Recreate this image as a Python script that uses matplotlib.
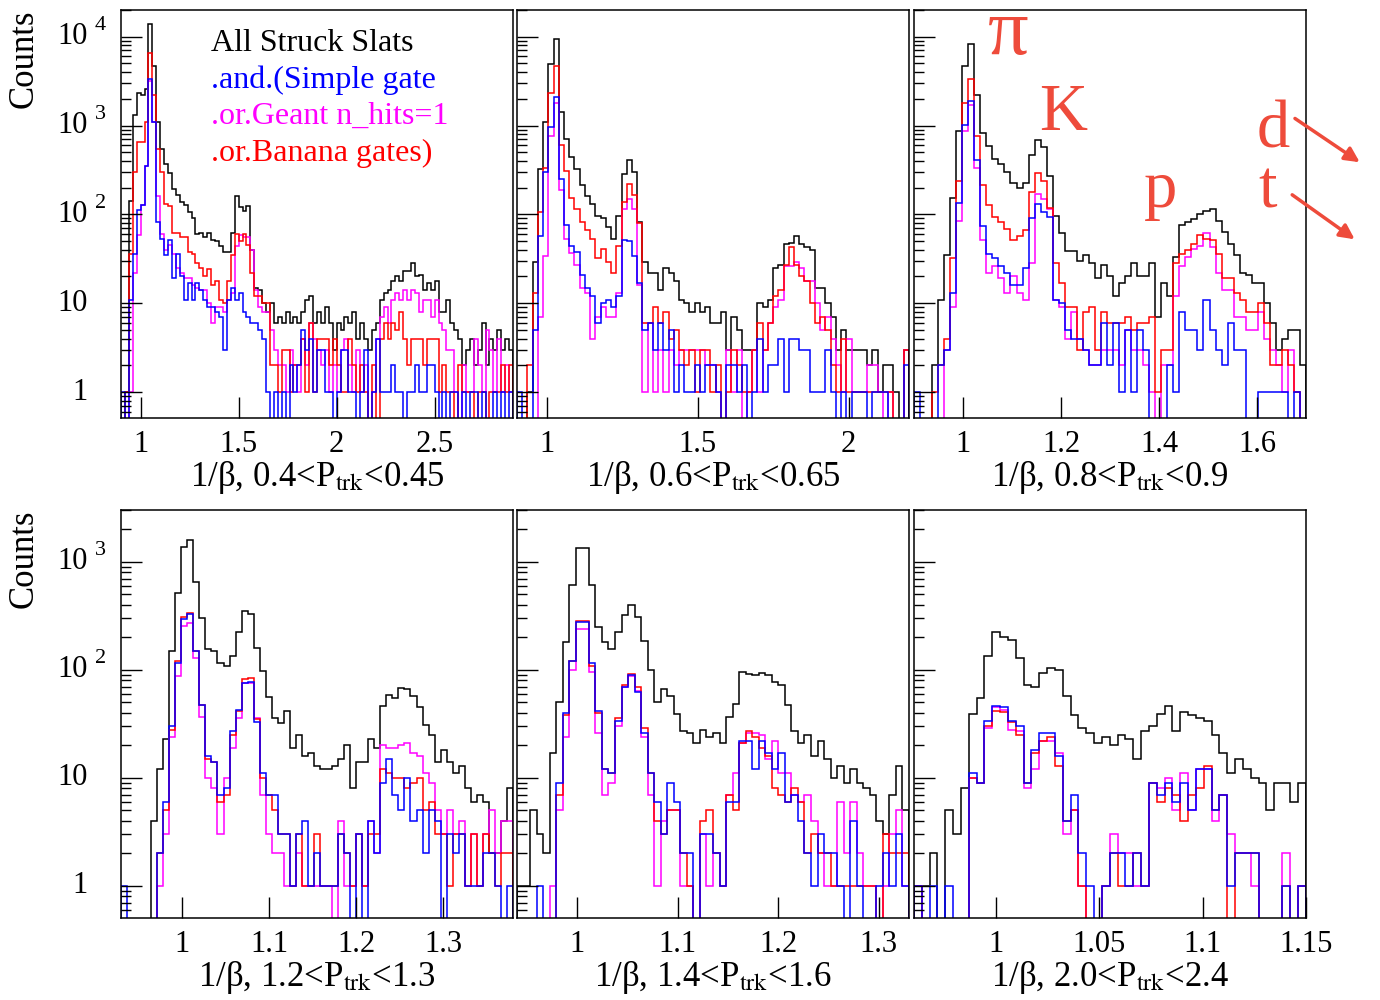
import numpy as np
import matplotlib.pyplot as plt
from matplotlib.transforms import offset_copy
from matplotlib.ticker import NullFormatter, LogLocator

plt.rcParams['font.family'] = ['Liberation Serif', 'DejaVu Serif']
plt.rcParams['mathtext.fontset'] = 'stix'

# ---- panel 1 : 0.4 < P < 0.45, 100 bins on [0.9, 2.9]
p1_black = [0, 1, 140, 1300, 2300, 2200, 2600, 14000, 4700, 1100,
            550, 370, 290, 195, 165, 137, 126, 105, 90, 60,
            62, 55, 62, 52, 50, 44, 38, 38, 62, 160,
            120, 110, 125, 40, 15, 14, 10, 8, 10, 6,
            7, 6, 8, 6, 7, 6, 8, 11, 12, 6,
            8, 6, 9, 6, 3, 6, 5, 7, 6, 8,
            4, 6, 4, 3, 5, 6, 11, 13, 14, 18,
            20, 18, 23, 23, 28, 20, 21, 14, 17, 14,
            18, 8, 8, 11, 6, 5, 4, 2, 3, 4,
            2, 3, 6, 2, 4, 3, 5, 3, 4, 3]
p1_red = [0, 1, 36, 300, 660, 660, 1100, 6600, 2200, 550,
          300, 130, 125, 62, 62, 55, 55, 38, 36, 28,
          25, 20, 24, 16, 18, 11, 10, 18, 35, 60,
          50, 60, 45, 22, 12, 12, 10, 10, 2, 2,
          1, 3, 3, 1, 2, 2, 4, 1, 6, 1,
          4, 4, 4, 2, 4, 2, 1, 1, 4, 2,
          1, 2, 1, 0, 2, 0, 4, 6, 4, 6,
          5, 8, 4, 2, 4, 4, 4, 2, 4, 4,
          4, 1, 2, 1, 1, 0, 2, 1, 1, 1,
          0, 1, 1, 0, 1, 1, 1, 2, 1, 2]
p1_blue = [1, 0, 11, 36, 111, 126, 355, 3350, 1100, 82,
           53, 35, 51, 19, 36, 20, 11, 17, 11, 17,
           14, 11, 9, 9, 8, 7, 3, 11, 15, 11,
           13, 8, 7, 6, 6, 5, 4, 1, 0, 1,
           0, 1, 0, 2, 1, 2, 5, 3, 4, 1,
           3, 3, 1, 1, 0, 1, 3, 3, 1, 1,
           0, 1, 3, 0, 1, 4, 1, 1, 1, 2,
           1, 1, 0, 1, 1, 2, 1, 1, 2, 2,
           1, 0, 1, 0, 1, 1, 0, 1, 0, 1,
           1, 0, 1, 0, 0, 1, 0, 1, 0, 1]
p1_mag = [0, 0, 1, 22, 58, 126, 355, 3200, 1100, 160,
          60, 40, 45, 36, 25, 22, 19, 19, 16, 15,
          14, 14, 10, 6, 9, 9, 8, 11, 13, 44,
          58, 55, 55, 40, 14, 9, 8, 8, 5, 3,
          2, 2, 1, 3, 2, 1, 4, 2, 6, 4,
          3, 2, 3, 1, 2, 1, 3, 4, 2, 1,
          3, 1, 2, 0, 1, 4, 7, 9, 6, 11,
          13, 11, 14, 11, 14, 13, 8, 11, 11, 7,
          11, 6, 5, 3, 3, 1, 0, 2, 1, 1,
          4, 2, 1, 5, 3, 1, 4, 1, 2, 1]

# ---- panel 2 : 0.6 < P < 0.65, 75 bins on [0.9, 2.2]
p2_black = [0, 0, 1, 29, 325, 1100, 4900, 9400, 1420, 710,
            440, 325, 212, 163, 132, 97, 90, 72, 53, 97,
            287, 405, 300, 82, 29, 22, 22, 14, 25, 22,
            18, 11, 10, 8, 10, 8, 9, 6,
            6, 8, 3, 7, 5, 3, 3, 3, 10, 9,
            11, 25, 27, 47, 48, 57, 46, 43, 40, 15,
            15, 10, 7, 3, 5, 3, 3, 3, 3, 2,
            3, 1, 2, 2, 1, 0, 3]
p2_red = [0, 0, 2, 13, 106, 335, 2350, 4700, 600, 310,
          152, 116, 82, 66, 53, 32, 41, 29, 22, 44,
          137, 220, 165, 80, 6, 6, 9, 6, 8, 4,
          5, 3, 2, 3, 1, 3, 3, 1,
          2, 0, 1, 3, 2, 1, 1, 3, 6, 3,
          6, 12, 14, 27, 43, 27, 20, 18, 10, 6,
          7, 5, 2, 1, 4, 1, 1, 1, 1, 1,
          1, 1, 1, 1, 0, 0, 3]
p2_blue = [1, 0, 0, 5, 57, 300, 960, 2100, 250, 75,
           44, 38, 21, 15, 12, 6, 10, 11, 9, 12,
           51, 50, 34, 17, 5, 6, 3, 6, 3, 5,
           1, 2, 1, 1, 2, 1, 2, 2,
           1, 0, 2, 2, 1, 2, 0, 1, 4, 1,
           2, 2, 4, 1, 4, 4, 3, 3, 1, 1,
           1, 3, 1, 0, 1, 0, 1, 1, 1, 0,
           1, 1, 1, 0, 0, 0, 2]
p2_mag = [0, 0, 0, 0, 7, 34, 770, 1800, 186, 53,
          37, 27, 15, 13, 4, 7, 9, 7, 7, 13,
          116, 150, 116, 16, 1, 6, 1, 3, 1, 3,
          2, 3, 3, 3, 3, 3, 2, 2,
          1, 0, 3, 1, 3, 0, 1, 3, 1, 3,
          6, 9, 11, 26, 26, 29, 25, 18, 18, 10,
          5, 7, 4, 2, 1, 4, 1, 1, 1, 2,
          2, 1, 0, 1, 0, 0, 3]

# ---- panel 3 : 0.8 < P < 0.9, 65 bins on [0.9, 1.7]
p3_black = [0, 0, 0, 2, 11, 35, 152, 870, 4640, 8200,
            2210, 830, 596, 415, 370, 299, 227, 200, 227, 468,
            680, 575, 270, 97, 61, 39, 39, 30, 35, 28,
            19, 27, 20,
            12, 17, 20, 28, 20, 20, 28, 7, 17, 12,
            33, 75, 82, 89, 102, 108, 116, 85, 63, 47,
            35, 22, 21, 17, 17, 10, 6, 3, 4, 5,
            5, 2]
p3_red = [0, 0, 0, 1, 2, 4, 32, 240, 1800, 3350,
          760, 212, 126, 93, 82, 69, 51, 57, 66, 178,
          290, 240, 118, 28, 17, 9, 9, 3, 8, 9,
          3, 8, 6,
          6, 6, 7, 5, 6, 6, 7, 1, 3, 3,
          28, 36, 40, 46, 59, 53, 52, 36, 19, 19,
          13, 11, 8, 8, 10, 6, 2, 2, 3, 2,
          1, 0]
p3_blue = [1, 0, 0, 0, 2, 3, 13, 134, 1010, 1870,
           405, 74, 36, 32, 26, 22, 16, 16, 25, 92,
           130, 105, 93, 11, 10, 5, 4, 4, 3, 2,
           2, 6, 2,
           6, 1, 5, 1, 5, 3, 0, 0, 0, 2,
           1, 8, 5, 5, 3, 11, 5, 3, 2, 6,
           3, 3, 0, 0, 1, 1, 1, 1, 1, 0,
           1, 0]
p3_mag = [0, 0, 0, 0, 0, 3, 9, 85, 870, 1700,
          330, 51, 22, 26, 19, 13, 20, 13, 11, 28,
          170, 150, 116, 11, 9, 4, 8, 4, 3, 2,
          2, 3, 3,
          3, 2, 5, 3, 3, 2, 1, 0, 2, 2,
          12, 26, 33, 41, 44, 61, 43, 22, 14, 14,
          7, 7, 5, 5, 8, 4, 3, 2, 1, 3,
          1, 0]

# ---- panel 4 : 1.2 < P < 1.3, 65 bins on [0.93, 1.38]
p4_black = [0, 0, 0, 0, 0, 4, 12, 23, 150, 512,
            1390, 1600, 655, 300, 156, 150, 115, 110, 135, 226,
            352, 330, 160, 98, 56, 36, 32, 42, 19, 25,
            16, 17, 13, 12, 12, 13, 15, 20, 8, 14,
            14, 23, 19, 46, 59, 55, 68, 66, 58, 45,
            31, 25, 14, 18, 14, 11, 13, 8, 6, 7,
            6, 2, 2, 4, 8]
p4_red = [0, 0, 0, 0, 0, 0, 2, 5, 28, 120,
          310, 340, 150, 47, 15, 14, 6, 7, 25, 42,
          82, 85, 35, 10, 7, 5, 3, 3, 1, 3,
          1, 1, 3, 1, 1, 1, 3, 2, 1, 3,
          1, 3, 3, 12, 11, 10, 10, 8, 9, 10,
          5, 6, 3, 3, 1, 3, 3, 1, 3, 1,
          3, 2, 1, 2, 2]
p4_blue = [1, 0, 0, 0, 0, 0, 2, 6, 30, 115,
           295, 330, 150, 47, 16, 14, 7, 8, 27, 43,
           75, 78, 33, 11, 7, 7, 3, 3, 1, 3,
           4, 1, 2, 1, 1, 1, 3, 2, 0, 3,
           0, 4, 2, 9, 15, 7, 5, 10, 4, 5,
           2, 5, 4, 0, 3, 2, 3, 1, 1, 1,
           2, 2, 1, 0, 1]
p4_mag = [0, 0, 0, 0, 0, 0, 1, 3, 24, 88,
          257, 270, 130, 37, 10, 8, 3, 10, 19, 36,
          75, 75, 36, 7, 3, 2, 2, 1, 1, 2,
          1, 1, 1, 1, 1, 0, 4, 1, 1, 3,
          1, 4, 2, 20, 19, 19, 20, 21, 17, 16,
          11, 9, 5, 3, 5, 3, 4, 1, 3, 1,
          3, 5, 2, 4, 4]

# ---- panel 5 : 1.4 < P < 1.6, 60 bins on [0.94, 1.33]
p5_black = [1, 1, 5, 3, 2, 17, 51, 183, 612, 1340,
            1340, 612, 252, 180, 158, 226, 322, 400, 310, 185,
            100, 51, 67, 57, 39, 27, 26, 21, 28, 24,
            26, 21, 37, 48, 96, 92, 90, 94, 90, 78,
            72, 47, 27, 21, 25, 16, 22, 15, 10, 13,
            9, 12, 9, 8, 7, 4, 3, 7, 13, 5]
p5_red = [0, 0, 0, 0, 0, 0, 7, 38, 121, 285,
          285, 108, 40, 12, 11, 36, 72, 92, 69, 29,
          11, 4, 3, 5, 5, 2, 1, 0, 4, 5,
          2, 1, 7, 5, 21, 27, 24, 19, 16, 8,
          7, 6, 8, 6, 2, 3, 2, 2, 1, 1,
          1, 1, 1, 1, 1, 0, 3, 2, 2, 2]
p5_blue = [0, 0, 0, 1, 0, 0, 9, 40, 121, 280,
           280, 115, 42, 12, 11, 34, 69, 90, 63, 26,
           11, 6, 3, 9, 6, 2, 2, 0, 3, 3,
           2, 1, 6, 6, 22, 22, 12, 22, 17, 12,
           17, 6, 7, 4, 2, 1, 3, 2, 2, 1,
           0, 4, 1, 0, 0, 1, 2, 1, 3, 1]
p5_mag = [0, 0, 0, 0, 0, 1, 5, 24, 100, 240,
          240, 96, 26, 7, 9, 30, 69, 88, 64, 24,
          7, 1, 4, 5, 5, 1, 1, 0, 3, 1,
          2, 1, 7, 11, 21, 26, 26, 25, 15, 22,
          11, 11, 7, 6, 7, 4, 2, 1, 1, 6,
          2, 6, 2, 1, 1, 0, 1, 3, 5, 1]

# ---- panel 6 : 2.0 < P < 2.4, 50 bins on [0.96, 1.15]
p6_black = [1, 1, 2, 0, 5, 3, 8, 39, 55, 134,
            224, 203, 190, 130, 73, 69, 93, 104, 100, 57,
            38, 29, 26, 21, 24, 20, 25, 23, 15, 27,
            30, 39, 46, 27, 41, 38, 36, 34, 25, 17,
            11, 15, 12, 10, 9, 5, 9, 9, 6, 9]
p6_red = [1, 0, 0, 0, 0, 0, 0, 10, 9, 30,
          42, 41, 33, 25, 9, 17, 22, 24, 13, 4,
          5, 1, 0, 0, 1, 2, 1, 1, 2, 1,
          9, 6, 8, 7, 4, 7, 8, 13, 5, 7,
          0, 2, 2, 2, 0, 0, 0, 1, 0, 1]
p6_blue = [1, 0, 1, 0, 1, 0, 0, 11, 9, 34,
           46, 45, 34, 30, 9, 18, 26, 26, 16, 4,
           7, 2, 1, 0, 1, 2, 2, 1, 2, 1,
           9, 7, 9, 6, 9, 5, 12, 12, 5, 7,
           1, 2, 2, 2, 0, 0, 0, 1, 0, 1]
p6_mag = [1, 0, 0, 0, 0, 0, 0, 10, 9, 29,
          45, 43, 28, 27, 8, 12, 22, 22, 17, 3,
          5, 1, 0, 0, 1, 3, 2, 2, 1, 1,
          9, 8, 10, 5, 11, 5, 12, 12, 4, 7,
          3, 2, 2, 1, 0, 0, 0, 2, 0, 1]

x_ranges = [(0.9, 2.9), (0.9, 2.2), (0.9, 1.7), (0.93, 1.38), (0.94, 1.33), (0.96, 1.1502)]
x_ticks = [[1, 1.5, 2, 2.5], [1, 1.5, 2], [1, 1.2, 1.4, 1.6],
           [1, 1.1, 1.2, 1.3], [1, 1.1, 1.2, 1.3], [1, 1.05, 1.1, 1.15]]
x_ticklabels = [['1', '1.5', '2', '2.5'], ['1', '1.5', '2'], ['1', '1.2', '1.4', '1.6'],
                ['1', '1.1', '1.2', '1.3'], ['1', '1.1', '1.2', '1.3'], ['1', '1.05', '1.1', '1.15']]
p_ranges = ['0.4<P$_{\\mathrm{trk}}$<0.45', '0.6<P$_{\\mathrm{trk}}$<0.65', '0.8<P$_{\\mathrm{trk}}$<0.9',
            '1.2<P$_{\\mathrm{trk}}$<1.3', '1.4<P$_{\\mathrm{trk}}$<1.6', '2.0<P$_{\\mathrm{trk}}$<2.4']
series = [(p1_black, p1_mag, p1_red, p1_blue), (p2_black, p2_mag, p2_red, p2_blue),
          (p3_black, p3_mag, p3_red, p3_blue), (p4_black, p4_mag, p4_red, p4_blue),
          (p5_black, p5_mag, p5_red, p5_blue), (p6_black, p6_mag, p6_red, p6_blue)]
colors = ['black', '#FF00FF', '#FF0000', '#0000FF']
legend_lines = ['All Struck Slats', '.and.(Simple gate', '.or.Geant n_hits=1', '.or.Banana gates)']
legend_colors = ['black', '#0000FF', '#FF00FF', '#FF0000']
ann = '#EE4B3B'

fig = plt.figure(figsize=(13.8, 10), dpi=100)
W, H = 1380.0, 1000.0
lefts = [121, 517, 914]
tops = [10, 510]
axes = []
for r in range(2):
    for c in range(3):
        ax = fig.add_axes([lefts[c] / W, 1 - (tops[r] + 408) / H, 392 / W, 408 / H])
        axes.append(ax)

for i, ax in enumerate(axes):
    lo, hi = x_ranges[i]
    nb = len(series[i][0])
    edges = np.linspace(lo, hi if i != 5 else 1.15, nb + 1)
    for vals, col in zip(series[i], colors):
        v = np.array(vals, dtype=float)
        v[v <= 0] = 1e-3
        ax.stairs(v, edges, color=col, lw=1.1, baseline=1e-3)
    ax.set_yscale('log')
    ylo, yhi = (0.51, 2.0e4) if i < 3 else (0.505, 3030)
    ax.set_ylim(ylo, yhi)
    ax.set_xlim(lo, hi)
    ax.set_xticks(x_ticks[i])
    ax.set_xticklabels(x_ticklabels[i], fontsize=22)
    ax.tick_params(axis='x', direction='in', length=15, width=1, pad=9, top=False)
    ax.yaxis.set_major_locator(LogLocator(base=10, numticks=10))
    ax.yaxis.set_minor_locator(LogLocator(base=10, subs=np.arange(2, 10), numticks=20))
    ax.yaxis.set_major_formatter(NullFormatter())
    ax.yaxis.set_minor_formatter(NullFormatter())
    ax.tick_params(axis='y', which='major', direction='in', length=15, width=1, right=False)
    ax.tick_params(axis='y', which='minor', direction='in', length=7, width=1, right=False)
    for sp in ax.spines.values():
        sp.set_linewidth(1.1)
    ax.set_xlabel('1/\u03b2, ' + p_ranges[i], fontsize=25, labelpad=0)

    # ROOT-like y labels: "10" with a detached exponent
    if i in (0, 3):
        for e in range(0, 5):
            v = 10.0 ** e
            if v < ylo or v > yhi:
                continue
            tb = offset_copy(ax.get_yaxis_transform(), fig=fig, x=-33, y=0, units='dots')
            ax.text(0, v, '1' if e == 0 else '10', transform=tb, ha='right', va='center', fontsize=22)
            if e >= 2:
                te = offset_copy(ax.get_yaxis_transform(), fig=fig, x=-26, y=11, units='dots')
                ax.text(0, v, str(e), transform=te, ha='left', va='center', fontsize=16)
        ax.set_ylabel('Counts', fontsize=25, loc='top')
        ax.yaxis.set_label_coords(-0.205, 1.0)

# legend text in first panel
ys = [0.9, 0.809, 0.721, 0.630]
for txt, col, yy in zip(legend_lines, legend_colors, ys):
    axes[0].text(0.23, yy, txt, color=col, fontsize=23, transform=axes[0].transAxes, va='baseline')

# particle labels in third panel
a3 = axes[2]
for txt, x, y, fs in [('\u03c0', 0.240, 0.892, 58), ('K', 0.380, 0.706, 48), ('p', 0.630, 0.517, 48),
                      ('d', 0.917, 0.664, 48), ('t', 0.903, 0.517, 48)]:
    a3.text(x, y, txt, color=ann, fontsize=fs, ha='center', va='baseline', transform=a3.transAxes)
for (x0, y0), (x1, y1) in [((0.966, 0.738), (1.143, 0.623)), ((0.959, 0.551), (1.130, 0.434))]:
    a3.annotate('', xy=(x1, y1), xytext=(x0, y0), xycoords='axes fraction', textcoords='axes fraction',
                annotation_clip=False,
                arrowprops=dict(arrowstyle='-|>', color=ann, lw=2.5, mutation_scale=22))

fig.savefig('out.png', dpi=100)
